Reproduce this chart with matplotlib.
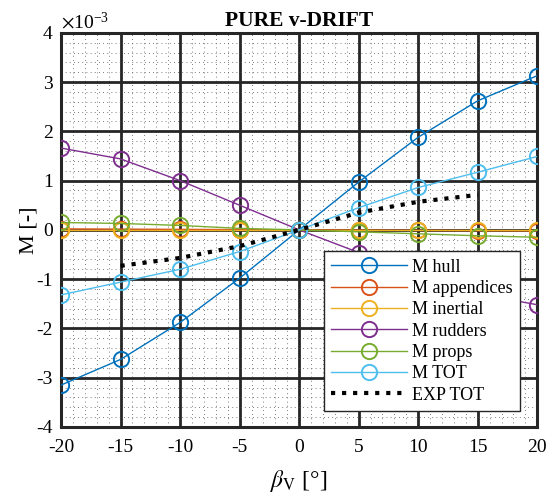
import matplotlib
matplotlib.use("Agg")
import matplotlib.pyplot as plt
from matplotlib.ticker import MultipleLocator, ScalarFormatter

plt.rcParams.update({
    "font.family": "Liberation Serif",
    "mathtext.fontset": "stix",
    "font.size": 14,
    "axes.unicode_minus": False,
})


class PlainTickFormatter(ScalarFormatter):
    """Math-text offset (x10^n) but plain-text tick labels with hyphen minus."""

    def __call__(self, x, pos=None):
        s = super().__call__(x, pos)
        return s.replace("$", "").replace(r"\mathdefault{", "").replace("}", "")


# drift angle [deg]
beta = [-20, -15, -10, -5, 0, 5, 10, 15, 20]

# yaw moment components [-]
m_hull = [-3.15e-3, -2.63e-3, -1.88e-3, -0.98e-3, 0.0, 0.97e-3, 1.88e-3, 2.62e-3, 3.13e-3]
m_appendices = [0.02e-3, 0.015e-3, 0.01e-3, 0.005e-3, 0.0, -0.005e-3, -0.01e-3, -0.015e-3, -0.02e-3]
m_inertial = [0.0, 0.0, 0.0, 0.0, 0.0, 0.0, 0.0, 0.0, 0.0]
m_rudders = [1.66e-3, 1.44e-3, 1.0e-3, 0.5e-3, 0.0, -0.46e-3, -0.95e-3, -1.3e-3, -1.52e-3]
m_props = [0.15e-3, 0.13e-3, 0.09e-3, 0.03e-3, 0.0, -0.04e-3, -0.08e-3, -0.12e-3, -0.15e-3]
m_tot = [-1.32e-3, -1.06e-3, -0.8e-3, -0.44e-3, 0.0, 0.45e-3, 0.86e-3, 1.17e-3, 1.49e-3]

# experimental total
beta_exp = [-15, -10, -5, 0, 5, 10, 15]
m_exp = [-0.73e-3, -0.57e-3, -0.33e-3, 0.0, 0.35e-3, 0.57e-3, 0.71e-3]

series = [
    ("M hull", m_hull, "#0072BD"),
    ("M appendices", m_appendices, "#D95319"),
    ("M inertial", m_inertial, "#EDB120"),
    ("M rudders", m_rudders, "#7E2F8E"),
    ("M props", m_props, "#77AC30"),
    ("M TOT", m_tot, "#4DBEEE"),
]

fig = plt.figure(figsize=(5.55, 4.97), dpi=100)
ax = fig.add_axes([0.110, 0.141, 0.858, 0.793])

for name, vals, col in series:
    ax.plot(beta, vals, "-o", color=col, lw=1.0, ms=11, mfc="none",
            mew=1.4, label=name, zorder=3)
ax.plot(beta_exp, m_exp, ":", color="black", lw=3.0, label="EXP TOT", zorder=3)

ax.set_xlim(-20, 20)
ax.set_ylim(-4e-3, 4e-3)
ax.xaxis.set_major_locator(MultipleLocator(5))
ax.xaxis.set_minor_locator(MultipleLocator(1))
ax.yaxis.set_major_locator(MultipleLocator(1e-3))
ax.yaxis.set_minor_locator(MultipleLocator(0.2e-3))

fmt = PlainTickFormatter(useMathText=True)
fmt.set_powerlimits((-2, 2))
ax.yaxis.set_major_formatter(fmt)
ax.yaxis.get_offset_text().set_fontsize(14)

ax.grid(which="major", color="#262626", lw=2.0, ls="-", zorder=1)
ax.grid(which="minor", color="#505050", lw=0.6, ls=(0, (1, 4)), zorder=1)
ax.set_axisbelow(True)
ax.tick_params(which="both", length=0)
ax.tick_params(axis="y", pad=6)
ax.tick_params(axis="x", pad=9)
for sp in ax.spines.values():
    sp.set_linewidth(2.2)
    sp.set_color("#262626")

ax.set_title("PURE v-DRIFT", fontweight="bold", fontsize=15.5, pad=5)
ax.set_xlabel(r"$\beta_{\mathrm{V}}$ [°]", fontsize=17, labelpad=8)
ax.set_ylabel("M [-]", fontsize=16, labelpad=-2)

leg = ax.legend(loc="lower right", bbox_to_anchor=(0.964, 0.041),
                borderaxespad=0, fancybox=False, framealpha=1,
                edgecolor="#262626", handlelength=4.2, labelspacing=0.24,
                borderpad=0.4, handletextpad=0.3, fontsize=13)
leg.get_frame().set_linewidth(1.0)

fig.savefig("out.png", dpi=100)
